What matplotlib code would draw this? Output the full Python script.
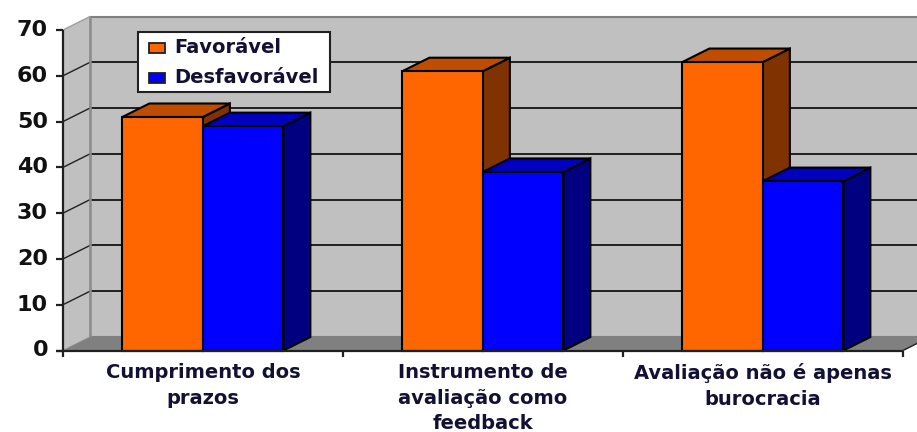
import matplotlib
matplotlib.use("Agg")
import matplotlib.pyplot as plt
from matplotlib.patches import Polygon, Rectangle

categories = ["Cumprimento dos\nprazos", "Instrumento de\navaliação como\nfeedback", "Avaliação não é apenas\nburocracia"]
favoravel = [51, 61, 63]
desfavoravel = [49, 39, 37]
y_ticks = [0, 10, 20, 30, 40, 50, 60, 70]

W, H = 917, 432
X0, X1 = 63, 903       # front plot edges, pixels
Y0, Y70 = 350.5, 30    # front y=0 and y=70, pixels
DX_PX, DY_PX = 27, 13.5

fig = plt.figure(figsize=(W / 100, H / 100), dpi=100, facecolor="white")
ax = fig.add_axes([X0 / W, 1 - Y0 / H, (X1 - X0) / W, (Y0 - Y70) / H])
ax.set_xlim(0, 3)
ax.set_ylim(0, 70)
ax.axis("off")

# depth of the fake 3D box, in data units
dx = DX_PX / ((X1 - X0) / 3)
dy = DY_PX / ((Y0 - Y70) / 70)
bar_w = 0.2875
gap = 0.212

def poly(pts, fc, ec="black", lw=1.5, z=1):
    ax.add_patch(Polygon(pts, closed=True, fc=fc, ec=ec, lw=lw, zorder=z, clip_on=False, joinstyle="miter"))

def line(xs, ys, c="black", lw=1.3, z=2):
    ax.plot(xs, ys, color=c, lw=lw, zorder=z, clip_on=False, solid_capstyle="butt")

# walls and floor
poly([(dx, dy), (3 + dx, dy), (3 + dx, 70 + dy), (dx, 70 + dy)], "#c0c0c0", "#808080", 1.5)
poly([(0, 0), (dx, dy), (dx, 70 + dy), (0, 70)], "#c0c0c0", "#a0a0a0", 1.0)
poly([(0, 0), (3, 0), (3 + dx, dy), (dx, dy)], "#808080", "none", 0)

# gridlines on the back wall and the slanted side wall
for t in y_ticks:
    if t > 0 and t < 70:
        line([dx, 3 + dx], [t + dy, t + dy], "#202020", 1.4)
        line([0, dx], [t, t + dy], "#202020", 1.0)
line([dx, dx], [dy, 70 + dy], "#8c8c8c", 1.8)
line([3, 3 + dx], [0, dy], "#202020", 1.0)

def bar3d(x, v, front, top, side, z):
    poly([(x + bar_w, 0), (x + bar_w + dx, dy), (x + bar_w + dx, v + dy), (x + bar_w, v)], side, z=z)
    poly([(x, v), (x + bar_w, v), (x + bar_w + dx, v + dy), (x + dx, v + dy)], top, z=z)
    poly([(x, 0), (x + bar_w, 0), (x + bar_w, v), (x, v)], front, z=z + 0.1)

for i in range(3):
    x = i + gap
    bar3d(x, favoravel[i], "#ff6600", "#bf4d00", "#803300", 3 + i)
    bar3d(x + bar_w, desfavoravel[i], "#0000ff", "#0000bf", "#000080", 3.3 + i)

# axes lines and ticks
line([0, 0], [0, 70], "#202020", 1.6, 10)
line([-7 / 280, 3], [0, 0], "#202020", 1.6, 10)
for t in y_ticks:
    line([-7 / 280, 0], [t, t], "#202020", 1.6, 10)
    ax.text(-15 / 280, t, str(t), ha="right", va="center", fontsize=16, fontweight="bold", color="#111111", clip_on=False)
for i in range(4):
    line([i, i], [0, -6.5 / 4.58], "#202020", 1.6, 10)

# category labels
for i, lab in enumerate(categories):
    ax.text(i + 0.5, -13 / 4.58, lab, ha="center", va="top", fontsize=14, fontweight="bold",
            color="#111133", linespacing=1.42, clip_on=False)

# legend box, placed in figure pixels
leg = fig.add_axes([0, 0, 1, 1], facecolor="none")
leg.set_xlim(0, W)
leg.set_ylim(H, 0)
leg.axis("off")
leg.add_patch(Rectangle((137.5, 31.5), 192.5, 60, fc="white", ec="#202020", lw=1.5))
leg.add_patch(Rectangle((148.5, 42.5), 16, 10, fc="#ff6600", ec="#202020", lw=1.3))
leg.add_patch(Rectangle((148.5, 72.5), 16, 10, fc="#0000ff", ec="#202020", lw=1.3))
leg.text(174, 47.5, "Favorável", va="center", ha="left", fontsize=14, fontweight="bold", color="#111133")
leg.text(174, 77.5, "Desfavorável", va="center", ha="left", fontsize=14, fontweight="bold", color="#111133")

fig.savefig("out.png", dpi=100)
